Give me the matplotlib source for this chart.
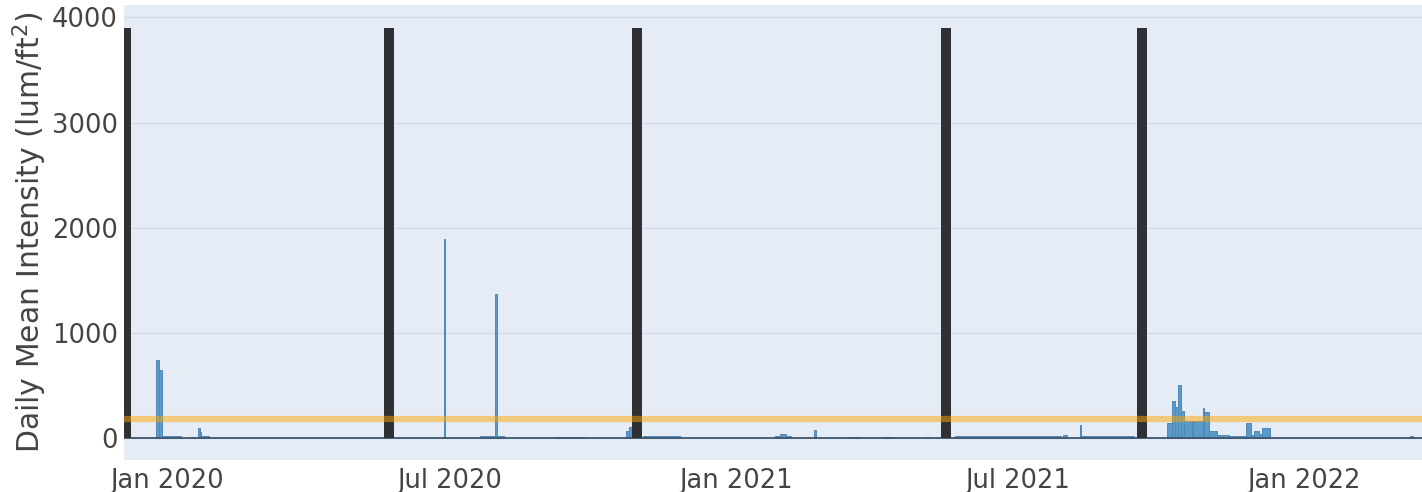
import matplotlib
matplotlib.use("Agg")
import matplotlib.pyplot as plt
import numpy as np
import pandas as pd

# ---- data ----
# blue series: start date, duration (days), daily mean intensity
seg_start = ["2019-12-25", "2019-12-27", "2019-12-29", "2020-01-16", "2020-01-21",
             "2020-01-22", "2020-01-23", "2020-06-27", "2020-07-20", "2020-07-30",
             "2020-07-31", "2020-09-07", "2020-10-22", "2020-10-24", "2020-11-02",
             "2021-01-26", "2021-01-29", "2021-02-02", "2021-02-20", "2021-03-13",
             "2021-04-07", "2021-05-03", "2021-05-22", "2021-07-30", "2021-08-10",
             "2021-08-11", "2021-10-05", "2021-10-08", "2021-10-10", "2021-10-12",
             "2021-10-14", "2021-10-16", "2021-10-21", "2021-10-22", "2021-10-28",
             "2021-10-29", "2021-11-01", "2021-11-06", "2021-11-14", "2021-11-25",
             "2021-11-28", "2021-11-30", "2021-12-03", "2021-12-05", "2022-03-10"]
seg_days = [2, 2, 12, 3, 1,
            1, 5, 1, 9, 1,
            5, 19, 2, 2, 24,
            3, 4, 3, 1, 8,
            5, 2, 68, 3, 1,
            34, 3, 2, 2, 2,
            2, 5, 1, 6, 1,
            3, 5, 8, 11, 3,
            2, 3, 2, 5, 2]
seg_values = [740, 650, 20, 15, 95,
              60, 20, 1890, 20, 1375,
              20, 15, 70, 110, 18,
              25, 40, 25, 75, 15,
              15, 12, 18, 30, 125,
              20, 150, 350, 300, 505,
              255, 160, 75, 160, 285,
              250, 65, 35, 20, 150,
              35, 70, 45, 100, 20]

# black event markers
event_dates = ["2019-12-05 12:00", "2020-05-23 00:00", "2020-10-29 00:00",
               "2021-05-16 00:00", "2021-09-19 00:00"]
event_height = [3900, 3900, 3900, 3900, 3900]

threshold = 180
y_ticks = [0, 1000, 2000, 3000, 4000]
x_ticks = ["2020-01-01", "2020-07-01", "2021-01-01", "2021-07-01", "2022-01-01"]
x_ticklabels = ["Jan 2020", "Jul 2020", "Jan 2021", "Jul 2021", "Jan 2022"]
x_range = ["2019-12-04 08:00", "2022-03-18 00:00"]
y_range = [-206, 4117]
y_label = "Daily Mean Intensity (lum/ft$^2$)"

# ---- figure ----
plt.rcParams['font.family'] = ['DejaVu Sans']
plt.rcParams['mathtext.fontset'] = 'dejavusans'
fig = plt.figure(figsize=(14.22, 4.92), dpi=100)
ax = fig.add_axes([124/1422, 1 - 460/492, 1 - 124/1422, 455/492])
ax.set_facecolor('#E5ECF6')
for s in ax.spines.values():
    s.set_visible(False)

ax.set_axisbelow(True)
ax.yaxis.grid(True, color='#D3DBE8', linewidth=1.0)
ax.xaxis.grid(False)

starts = pd.to_datetime(seg_start, format='ISO8601')
ax.bar(starts, seg_values, width=seg_days, align='edge',
       color='#5A9AC8', edgecolor='#5088B8', linewidth=0.7, zorder=2)

ax.axhline(0, color='#3E566E', linewidth=1.3, zorder=3)

ev = pd.to_datetime(event_dates, format='ISO8601')
ax.bar(ev, event_height, width=6.5, align='center', color='#2F3033',
       edgecolor='none', zorder=4)

ax.axhline(threshold, color='orange', alpha=0.5, linewidth=4.5, zorder=5)

ax.set_xlim(pd.Timestamp(x_range[0]), pd.Timestamp(x_range[1]))
ax.set_ylim(*y_range)
ax.set_yticks(y_ticks)
ax.set_yticklabels([str(v) for v in y_ticks])
ax.set_xticks(pd.to_datetime(x_ticks, format='ISO8601'))
ax.set_xticklabels(x_ticklabels)
ax.tick_params(axis='both', length=0, labelsize=18.5, labelcolor='#444444')
ax.tick_params(axis='y', pad=4.5)
ax.tick_params(axis='x', pad=6)

ax.set_ylabel(y_label, fontsize=21.5, color='#444444')
ax.yaxis.set_label_coords(-0.058, 0.5)

fig.savefig("out.png", dpi=100, facecolor='white')
